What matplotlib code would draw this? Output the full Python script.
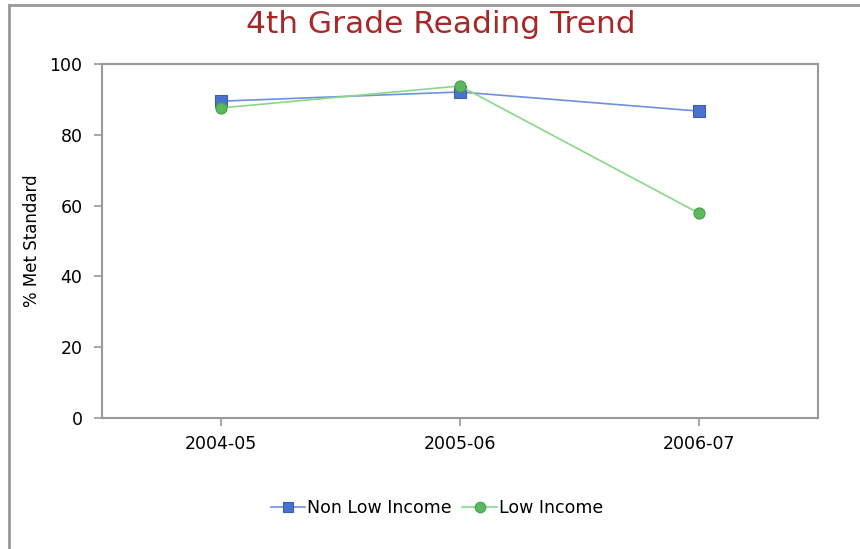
#!/usr/bin/env python

"""
4th Grade Reading Trend line chart.
"""

import matplotlib.pyplot as plt
from matplotlib.lines import Line2D

years = ["2004-05", "2005-06", "2006-07"]
non_low_income = [89.5, 92.1, 86.7]
low_income = [87.6, 93.8, 57.9]
y_ticks = [0, 20, 40, 60, 80, 100]


def plot_trend():
    fig = plt.figure(figsize=(8.6, 5.49), dpi=100)
    ax = fig.add_axes([0.1186, 0.2386, 0.8326, 0.6448])
    x = range(len(years))

    ax.plot(x, non_low_income, color="#6f8fe0", lw=1.2, marker="s", ms=8,
            mfc="#4a72cc", mec="#3a5fb0", mew=0.8, label="Non Low Income")
    ax.plot(x, low_income, color="#88d888", lw=1.2, marker="o", ms=8,
            mfc="#5cb85c", mec="#4aa04a", mew=0.8, label="Low Income")

    ax.set_xlim(-0.5, 2.5)
    ax.set_ylim(0, 100)
    ax.set_xticks(list(x))
    ax.set_xticklabels(years)
    ax.set_yticks(y_ticks)
    for s in ax.spines.values():
        s.set_color("#999999")
        s.set_linewidth(1.5)
    ax.tick_params(colors="#999999", labelcolor="black", labelsize=12.5,
                   length=6, width=1.2, pad=6)
    ax.tick_params(axis="y", pad=8)
    ax.set_ylabel("% Met Standard", fontsize=12, labelpad=6)

    fig.text(0.512, 0.955, "4th Grade Reading Trend", color="#a8282a",
             fontsize=22.5, ha="center", va="center")

    fig.legend(loc="center", bbox_to_anchor=(0.508, 0.075), ncol=2,
               frameon=False, fontsize=12.5, handlelength=2.0,
               handletextpad=0.1, columnspacing=0.6, markerscale=0.95)

    # outer panel border (left and top)
    fig.add_artist(Line2D([0.0105, 0.0105], [0, 0.99], color="#999999", lw=2))
    fig.add_artist(Line2D([0.0105, 1.0], [0.99, 0.99], color="#999999", lw=2))

    fig.savefig("out.png", dpi=100)


if __name__ == "__main__":
    plot_trend()
